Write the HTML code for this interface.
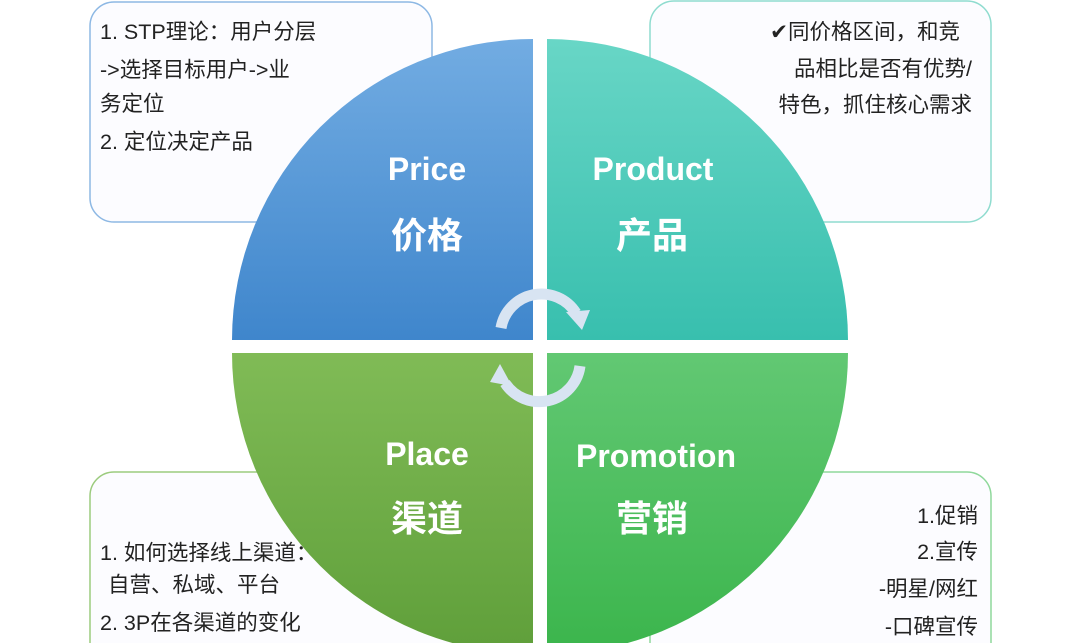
<!DOCTYPE html>
<html><head><meta charset="utf-8"><style>
html,body{margin:0;padding:0;background:#fff;width:1080px;height:643px;overflow:hidden}
svg{display:block}
text{font-family:"Liberation Sans","Noto Sans CJK SC",sans-serif}
</style></head><body>
<svg width="1080" height="643" viewBox="0 0 1080 643" xmlns="http://www.w3.org/2000/svg">
<defs>
<linearGradient id="gb" x1="0" y1="0" x2="0" y2="1"><stop offset="0" stop-color="#72ace2"/><stop offset="1" stop-color="#3f86cc"/></linearGradient>
<linearGradient id="gt" x1="0" y1="0" x2="0" y2="1"><stop offset="0" stop-color="#68d6c6"/><stop offset="1" stop-color="#38bfae"/></linearGradient>
<linearGradient id="gl" x1="0" y1="0" x2="0" y2="1"><stop offset="0" stop-color="#80bb56"/><stop offset="1" stop-color="#5f9f3a"/></linearGradient>
<linearGradient id="gp" x1="0" y1="0" x2="0" y2="1"><stop offset="0" stop-color="#62c873"/><stop offset="1" stop-color="#3bb54c"/></linearGradient>
</defs>
<rect x="90" y="2" width="342" height="220" rx="24" fill="#fcfcff" stroke="#8db8e4" stroke-width="1.5"/>
<rect x="650" y="1" width="341" height="221" rx="24" fill="#fcfcff" stroke="#8fdccf" stroke-width="1.5"/>
<rect x="90" y="472" width="400" height="200" rx="24" fill="#fcfcff" stroke="#9ccb7e" stroke-width="1.5"/>
<rect x="650" y="472" width="341" height="200" rx="24" fill="#fcfcff" stroke="#8fd89b" stroke-width="1.5"/>
<g font-size="21.5" fill="#222">
<text x="100" y="39">1. STP理论：用户分层</text>
<text x="100" y="77">-&gt;选择目标用户-&gt;业</text>
<text x="100" y="111">务定位</text>
<text x="100" y="149">2. 定位决定产品</text>
<g text-anchor="end">
<text x="960" y="39">✔同价格区间，和竞</text>
<text x="972" y="76">品相比是否有优势/</text>
<text x="972" y="112">特色，抓住核心需求</text>
<text x="978" y="523">1.促销</text>
<text x="978" y="559">2.宣传</text>
<text x="978" y="596">-明星/网红</text>
<text x="978" y="634">-口碑宣传</text>
</g>
<text x="100" y="560">1. 如何选择线上渠道：</text>
<text x="108" y="592">自营、私域、平台</text>
<text x="100" y="630">2. 3P在各渠道的变化</text>
</g>
<path d="M533,340 L232,340 A301,301 0 0 1 533,39 Z" fill="url(#gb)"/>
<path d="M547,340 L547,39 A301,301 0 0 1 848,340 Z" fill="url(#gt)"/>
<path d="M533,353 L533,654 A301,301 0 0 1 232,353 Z" fill="url(#gl)"/>
<path d="M547,353 L848,353 A301,301 0 0 1 547,654 Z" fill="url(#gp)"/>
<g fill="#fff" font-weight="bold" text-anchor="middle">
<text x="427" y="180" font-size="32">Price</text>
<text x="427" y="248" font-size="36">价格</text>
<text x="653" y="180" font-size="32">Product</text>
<text x="652" y="248" font-size="36">产品</text>
<text x="427" y="465" font-size="32">Place</text>
<text x="427" y="531" font-size="36">渠道</text>
<text x="656" y="467" font-size="32">Promotion</text>
<text x="652" y="531" font-size="36">营销</text>
</g>
<g fill="none" stroke="#d8e4f2" stroke-width="11">
<path d="M501,328 A41,41 0 0 1 576,313"/>
<path d="M580,366 A41,41 0 0 1 505,383"/>
</g>
<path d="M566,312 L590,310 L582,330 Z" fill="#d8e4f2"/>
<path d="M512,386 L490,382 L500,364 Z" fill="#d8e4f2"/>
</svg>
</body></html>
